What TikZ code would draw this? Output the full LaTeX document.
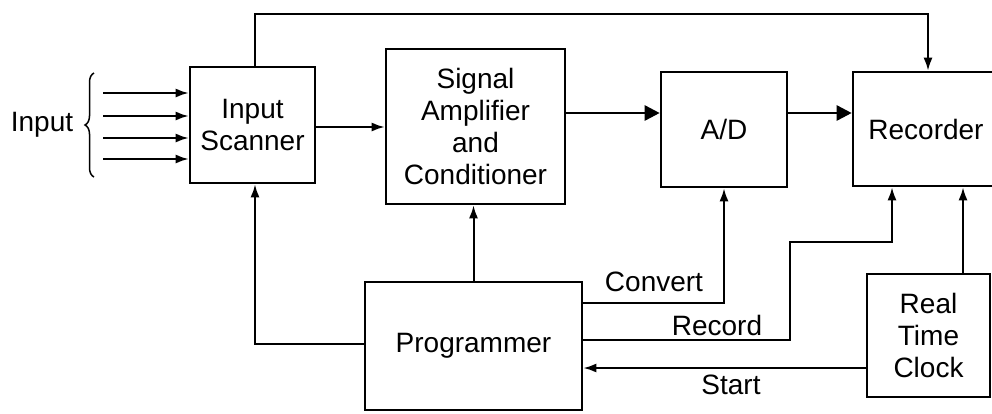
\documentclass[tikz,border=0pt]{standalone}
\usepackage{fontspec}
\setmainfont{Liberation Sans}
\usetikzlibrary{arrows.meta,decorations.pathreplacing}
\begin{document}
\begin{tikzpicture}[x=1pt,y=-1pt,
 box/.style={draw,line width=2.6pt,align=center,inner sep=0pt,font=\fontsize{28}{32}\selectfont},
 lbl/.style={font=\fontsize{28}{32}\selectfont,inner sep=0pt},
 arr/.style={line width=2pt,-{Latex[length=13pt,width=9pt]}},
 big/.style={line width=2.6pt,-{Triangle[length=15pt,width=15pt]}}]
\clip (0,0) rectangle (992,413);
\fill[white] (0,0) rectangle (992,413);
% boxes
\node[box,minimum width=125pt,minimum height=116pt] (scan) at (252.5,125) {Input\\Scanner};
\node[box,minimum width=179pt,minimum height=155pt] (sig) at (475.5,126.5) {Signal\\Amplifier\\and\\Conditioner};
\node[box,minimum width=126pt,minimum height=115pt] (ad) at (724,129.5) {A/D};
\node[box,minimum width=146pt,minimum height=114pt] (rec) at (926,129) {Recorder};
\node[box,minimum width=217pt,minimum height=128pt] (prog) at (473.5,346) {Programmer};
\node[box,minimum width=123pt,minimum height=123pt] (rtc) at (928.5,335.5) {Real\\Time\\Clock};
% input
\node[lbl] (inp) at (42,125) {Input};
\coordinate (bb) at (94,177);
\coordinate (bt) at (94,73);
\draw[line width=1.5pt,decorate,decoration={brace,amplitude=9pt}] (bb) -- (bt);
\foreach \y [count=\i] in {93,116,138,159}{
  \coordinate (i\i) at (103,\y);
  \draw[arr] (i\i) -- (i\i -| scan.west);
}
% main flow
\draw[arr] (scan.east |- 0,127) -- (sig.west |- 0,127);
\draw[big] (sig.east |- 0,113) -- (ad.west |- 0,113);
\draw[big] (ad.east |- 0,113) -- (rec.west |- 0,113);
% top bypass
\draw[arr] ([xshift=2.5pt]scan.north) -- ++(0,-52) -| ([xshift=2pt]rec.north);
% programmer links
\draw[arr] (prog.north) -- (prog.north |- sig.south);
\draw[arr] (prog.west |- 0,344) -| ([xshift=2.5pt]scan.south);
\draw[arr] (prog.east |- 0,303) -| (ad.south);
\coordinate (r1) at (790,340);
\coordinate (r2) at (790,242);
\draw[arr] (prog.east |- r1) -- (r1) -- (r2) -| ([xshift=-34pt]rec.south);
\draw[arr] ([xshift=34.5pt]rtc.north) -- ([xshift=37pt]rec.south);
\draw[arr] (rtc.west |- 0,368) -- (prog.east |- 0,368);
% labels
\node[lbl] (lc) at (654,282) {Convert};
\node[lbl] (lr) at (717,325) {Record};
\node[lbl] (ls) at (731,385) {Start};
\end{tikzpicture}
\end{document}
